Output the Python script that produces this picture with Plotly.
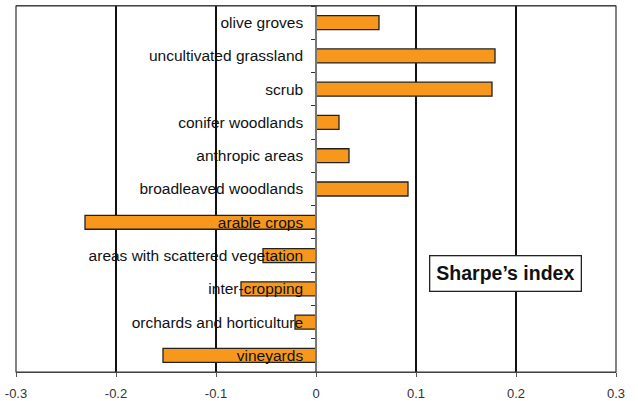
import plotly.graph_objects as go

categories = ["olive groves", "uncultivated grassland", "scrub", "conifer woodlands",
              "anthropic areas", "broadleaved woodlands", "arable crops",
              "areas with scattered vegetation", "inter-cropping",
              "orchards and horticulture", "vineyards"]
sharpe = [0.063, 0.179, 0.176, 0.023, 0.033, 0.092, -0.231, -0.053, -0.075, -0.021, -0.153]
x_ticks = [-0.3, -0.2, -0.1, 0, 0.1, 0.2, 0.3]
x_tick_labels = ["-0.3", "-0.2", "-0.1", "0", "0.1", "0.2", "0.3"]

fig = go.Figure(go.Bar(
    y=categories, x=sharpe, orientation="h",
    marker=dict(color="#F7981D", line=dict(color="#222222", width=1.3)),
    width=0.42,
))

fig.update_layout(
    width=638, height=401,
    margin=dict(l=16, r=22, t=6, b=29, autoexpand=False),
    plot_bgcolor="white", paper_bgcolor="white",
    showlegend=False,
    font=dict(family="Liberation Sans, Arial, sans-serif", color="#111111"),
    xaxis=dict(
        range=[-0.3, 0.3], tickvals=x_ticks, ticktext=x_tick_labels,
        showgrid=True, gridcolor="#111111", gridwidth=1.6,
        zeroline=False, showline=True, linecolor="#555555", linewidth=1,
        mirror=True, ticks="outside", ticklen=4, tickcolor="#555555",
        tickfont=dict(size=13, color="#333333"), automargin=False,
        ticklabelstandoff=5,
    ),
    yaxis=dict(
        categoryorder="array", categoryarray=categories, autorange="reversed",
        anchor="free", position=0.5, automargin=False,
        showgrid=False, zeroline=False, showline=True, linecolor="#777777", linewidth=1.5,
        ticks="outside", ticklen=4, tickcolor="#333333", tickson="boundaries",
        tickfont=dict(size=15.5, color="#111111"),
        ticklabelstandoff=9,
    ),
    annotations=[dict(
        x=0.189, y=7.54, xref="x", yref="y",
        text="<b>Sharpe’s index</b>", showarrow=False,
        font=dict(size=19.5, color="#111111"),
        bgcolor="white", bordercolor="#222222", borderwidth=1.3, borderpad=6,
    )],
)
fig.add_shape(type="rect", xref="paper", yref="paper", x0=0, x1=1, y0=0, y1=1,
              line=dict(color="#333333", width=1.2), layer="above")

fig.write_html("out.html", config={"displayModeBar": False},
               post_script="document.body.style.margin='0';")
